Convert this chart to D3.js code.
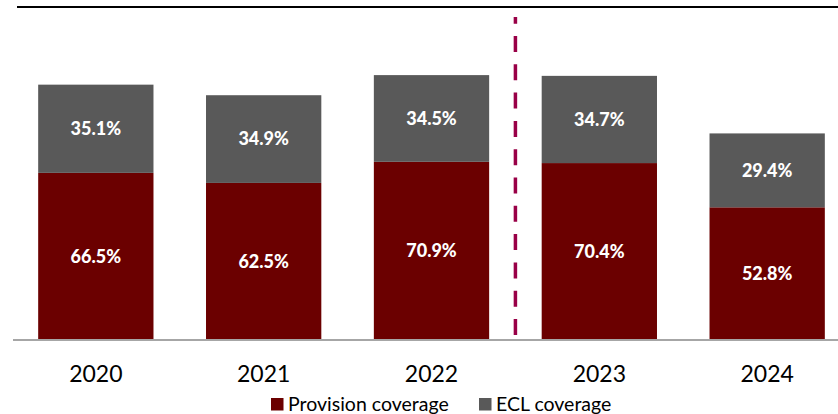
<!DOCTYPE html>
<html>
<head>
<meta charset="utf-8">
<script src="https://cdn.jsdelivr.net/npm/d3@7"></script>
<style>
  html, body { margin: 0; padding: 0; background: #ffffff; }
  svg { display: block; }
</style>
</head>
<body>
<svg id="chart" width="838" height="414"></svg>
<script>
const years = ["2020", "2021", "2022", "2023", "2024"];
const provisionCoverage = [66.5, 62.5, 70.9, 70.4, 52.8];
const eclCoverage = [35.1, 34.9, 34.5, 34.7, 29.4];
const seriesNames = ["Provision coverage", "ECL coverage"];
const seriesColors = ["#6B0000", "#595959"];

const svg = d3.select("#chart");
const W = 838, H = 414;
const font = "Lato, 'Open Sans', sans-serif";

const x = d3.scaleBand().domain(years).range([13, 850]).paddingInner(0.313).paddingOuter(0.15);
const y = d3.scaleLinear().domain([0, 132.5]).range([340, 7]);

const rows = years.map((yr, i) => ({ year: yr, provision: provisionCoverage[i], ecl: eclCoverage[i] }));
const stack = d3.stack().keys(["provision", "ecl"]);
const stacked = stack(rows);

// top rule
svg.append("line")
  .attr("x1", 17).attr("x2", W).attr("y1", 7).attr("y2", 7)
  .attr("stroke", "#000").attr("stroke-width", 2);

// bars
const groups = svg.selectAll("g.series").data(stacked).enter().append("g")
  .attr("class", "series").attr("fill", (d, i) => seriesColors[i]);

groups.selectAll("rect").data(d => d).enter().append("rect")
  .attr("x", d => x(d.data.year))
  .attr("width", x.bandwidth())
  .attr("y", d => y(d[1]))
  .attr("height", d => y(d[0]) - y(d[1]));

groups.selectAll("text").data(d => d).enter().append("text")
  .attr("x", d => x(d.data.year) + x.bandwidth() / 2)
  .attr("y", d => (y(d[0]) + y(d[1])) / 2)
  .attr("dy", "0.35em")
  .attr("text-anchor", "middle")
  .attr("fill", "#fff")
  .attr("font-family", font)
  .attr("font-weight", 900)
  .attr("font-size", 18)
  .text(d => (d[1] - d[0]).toFixed(1) + "%");

// baseline axis
const xAxis = d3.axisBottom(x).tickSize(0).tickPadding(0);
const ax = svg.append("g").attr("transform", "translate(0,340)").call(xAxis);
ax.select(".domain").remove();
svg.append("line")
  .attr("x1", 13).attr("x2", W).attr("y1", 340).attr("y2", 340)
  .attr("stroke", "#A6A6A6").attr("stroke-width", 2);
ax.selectAll("text")
  .attr("y", 34).attr("dy", "0.35em")
  .attr("fill", "#000")
  .attr("font-family", font)
  .attr("font-size", 23);

// dashed separator between 2022 and 2023
const sepX = (x("2022") + x.bandwidth() + x("2023")) / 2;
svg.append("line")
  .attr("x1", sepX).attr("x2", sepX).attr("y1", 335).attr("y2", 17)
  .attr("stroke", "#990047").attr("stroke-width", 3.5)
  .attr("stroke-dasharray", "16,12.3");

// legend
const legend = svg.append("g");
const legendX = [271, 479];
seriesNames.forEach((name, i) => {
  const g = legend.append("g").attr("transform", `translate(${legendX[i]},398)`);
  g.append("rect").attr("width", 12.5).attr("height", 12.5).attr("fill", seriesColors[i]);
  g.append("text").attr("x", 17).attr("y", 6.5).attr("dy", "0.35em")
    .attr("font-family", font).attr("font-size", 19.5).attr("fill", "#000")
    .text(name);
});
</script>
</body>
</html>
